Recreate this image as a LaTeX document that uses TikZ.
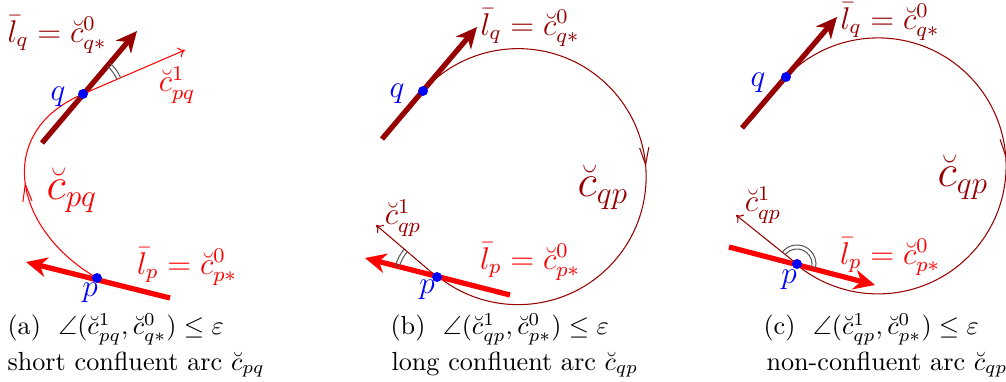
\documentclass[tikz,border=0pt]{standalone}
\usepackage{amsmath,amssymb}
\usepackage{xcolor}
\usetikzlibrary{arrows.meta,decorations.markings}

\definecolor{darkred}{RGB}{150,0,0}
\tikzset{
  tangent/.style={line width=2pt,-{Stealth[length=8pt,width=7.5pt,inset=2.5pt]}},
  firstdir/.style={line width=0.4pt,-{To[length=2.5pt,width=4pt]}},
  arcpath/.style={line width=0.4pt,postaction={decorate},
    decoration={markings,mark=at position #1 with {\arrow{Straight Barb[length=6.5pt,width=3.5pt]}}}},
  anglemark/.style={line width=0.4pt,black!65},
  lbl/.style={font=\large,inner sep=0pt},
  caption/.style={anchor=base west,inner sep=0pt},
}

\begin{document}
\begin{tikzpicture}[x=0.382pt,y=0.382pt]
  \useasboundingbox (0,0) rectangle (1006,381);
  \clip (0,0) rectangle (1006,381);
  % (a) short confluent arc
  \coordinate (qa) at (83,287); \coordinate (pa) at (97,103);
  \coordinate (la1) at (42,238); \coordinate (la2) at (137,350);
  \coordinate (lpa1) at (170,83); \coordinate (lpa2) at (26,119);
  \coordinate (ca) at (185,331);
  \draw[arcpath=0.52,red] (pa) .. controls +(150:97) and +(203:97) .. (qa);
  \draw[tangent,darkred] (la1) -- (la2);
  \draw[tangent,red] (lpa1) -- (lpa2);
  \draw[firstdir,red] (qa) -- (ca);
  \draw[anglemark] (qa) ++(23:37) arc[start angle=23,end angle=49,radius=37];
  \draw[anglemark] (qa) ++(23:41) arc[start angle=23,end angle=49,radius=41];
  \node[lbl,text=darkred] (lqa) at (57,346) {$\bar l_q=\breve c^0_{q*}$};
  \node[lbl,text=red] (c1a) at (177,296) {$\breve c^1_{pq}$};
  \node[font=\LARGE,text=red] (cpq) at (72,191) {$\breve c_{pq}$};
  \node[lbl,text=red] (lpa) at (187,114) {$\bar l_p=\breve c^0_{p*}$};
  \node[lbl,text=blue] (qla) at (58,284) {$q$};
  \node[lbl,text=blue] (pla) at (90,88) {$p$};
  \node[caption] (capa1) at (7,46) {(a)~~$\angle(\breve c^1_{pq},\breve c^0_{q*})\le\varepsilon$};
  \node[caption] (capa2) at (7,11) {short confluent arc $\breve c_{pq}$};
  % (b) long confluent arc
  \coordinate (qb) at (423,290); \coordinate (pb) at (437,104);
  \coordinate (lb1) at (382,242); \coordinate (lb2) at (477,354);
  \coordinate (lpb1) at (510,86); \coordinate (lpb2) at (365,123);
  \coordinate (cb) at (376,156);
  \draw[arcpath=0.5,darkred] (qb) arc[start angle=138,end angle=-129,radius=128];
  \draw[tangent,darkred] (lb1) -- (lb2);
  \draw[tangent,red] (lpb1) -- (lpb2);
  \draw[firstdir,darkred] (pb) -- (cb);
  \draw[anglemark] (pb) ++(140:39) arc[start angle=140,end angle=166,radius=39];
  \draw[anglemark] (pb) ++(140:43) arc[start angle=140,end angle=166,radius=43];
  \node[lbl,text=darkred] (lqb) at (530,353) {$\bar l_q=\breve c^0_{q*}$};
  \node[font=\LARGE,text=darkred] (cqpb) at (603,194) {$\breve c_{qp}$};
  \node[lbl,text=darkred] (c1b) at (403,163) {$\breve c^1_{qp}$};
  \node[lbl,text=red] (lpb) at (530,119) {$\bar l_p=\breve c^0_{p*}$};
  \node[lbl,text=blue] (qlb) at (397,287) {$q$};
  \node[lbl,text=blue] (plb) at (427,91) {$p$};
  \node[caption] (capb1) at (390,46) {(b)~~$\angle(\breve c^1_{qp},\breve c^0_{p*})\le\varepsilon$};
  \node[caption] (capb2) at (391,11) {long confluent arc $\breve c_{qp}$};
  % (c) non-confluent arc
  \coordinate (qc) at (786,304); \coordinate (pc) at (797,117);
  \coordinate (lc1) at (742,253); \coordinate (lc2) at (837,364);
  \coordinate (lpc1) at (729,134); \coordinate (lpc2) at (875,96);
  \coordinate (cc) at (736,166);
  \draw[arcpath=0.5,darkred] (qc) arc[start angle=136,end angle=-129,radius=128];
  \draw[tangent,darkred] (lc1) -- (lc2);
  \draw[tangent,red] (lpc1) -- (lpc2);
  \draw[firstdir,darkred] (pc) -- (cc);
  \draw[anglemark] (pc) ++(141:15) arc[start angle=141,end angle=-15,radius=15];
  \draw[anglemark] (pc) ++(141:19) arc[start angle=141,end angle=-15,radius=19];
  \node[lbl,text=darkred] (lqc) at (890,359) {$\bar l_q=\breve c^0_{q*}$};
  \node[font=\LARGE,text=darkred] (cqpc) at (963,204) {$\breve c_{qp}$};
  \node[lbl,text=darkred] (c1c) at (763,176) {$\breve c^1_{qp}$};
  \node[lbl,text=red] (lpc) at (890,124) {$\bar l_p=\breve c^0_{p*}$};
  \node[lbl,text=blue] (qlc) at (758,298) {$q$};
  \node[lbl,text=blue] (plc) at (789,101) {$p$};
  \node[caption] (capc1) at (763,46) {(c)~~$\angle(\breve c^1_{qp},\breve c^0_{p*})\le\varepsilon$};
  \node[caption] (capc2) at (766,11) {non-confluent arc $\breve c_{qp}$};
  \foreach \v in {qa,pa,qb,pb,qc,pc} \fill[blue] (\v) circle (1.9pt);
\end{tikzpicture}
\end{document}
